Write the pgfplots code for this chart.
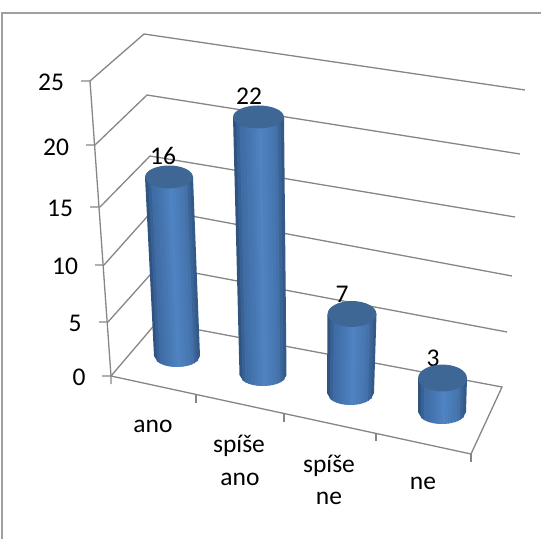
\documentclass[border=0pt]{standalone}
\usepackage{fontspec}
\setmainfont{Carlito}
\usepackage{pgfplots}
\pgfplotsset{compat=1.18}

\definecolor{framegray}{HTML}{A0A0A0}
\definecolor{wallgray}{HTML}{868686}
\definecolor{captop}{HTML}{3E6795}
\definecolor{cylA}{HTML}{2C4E78}
\definecolor{cylB}{HTML}{3E6BA3}
\definecolor{cylC}{HTML}{4F83C2}
\definecolor{cylD}{HTML}{4675AE}
\definecolor{cylE}{HTML}{2F5480}

% colour bands across the round side of a cylinder, left to right
\colorlet{S0}{cylA!78!cylB}
\colorlet{S1}{cylA!33!cylB}
\colorlet{S2}{cylB!96!cylC}
\colorlet{S3}{cylB!80!cylC}
\colorlet{S4}{cylB!65!cylC}
\colorlet{S5}{cylB!49!cylC}
\colorlet{S6}{cylB!33!cylC}
\colorlet{S7}{cylB!18!cylC}
\colorlet{S8}{cylB!2!cylC}
\colorlet{S9}{cylC!81!cylD}
\colorlet{S10}{cylC!59!cylD}
\colorlet{S11}{cylC!36!cylD}
\colorlet{S12}{cylC!14!cylD}
\colorlet{S13}{cylD!87!cylE}
\colorlet{S14}{cylD!52!cylE}
\colorlet{S15}{cylD!17!cylE}

% unit disc used for the top face of a cylinder
\pgfdeclareplotmark{capflat}{\pgfpathcircle{\pgfpointorigin}{1pt}\pgfusepath{fill}}

% value, top x, base x, base y, px per unit, top half width, base half width, top half height, base half height
\newcommand\cylinder[9]{%
  \pgfmathsetmacro\ytop{#4-#1*#5}%
  \pgfplotsinvokeforeach{0,...,15}{%
    \pgfmathsetmacro\ua{-1+##1/8}%
    \pgfmathsetmacro\ub{min(1,\ua+0.125+0.03)}%
    \pgfmathsetmacro\xta{#2+#6*\ua}\pgfmathsetmacro\xtb{#2+#6*\ub}%
    \pgfmathsetmacro\xba{#3+#7*\ua}\pgfmathsetmacro\xbb{#3+#7*\ub}%
    \pgfmathsetmacro\yba{#4+#9*sqrt(max(0,1-\ua*\ua))}%
    \pgfmathsetmacro\ybb{#4+#9*sqrt(max(0,1-\ub*\ub))}%
    \addplot[draw=none,fill=S##1] coordinates {(\xta,\ytop) (\xtb,\ytop) (\xbb,\ybb) (\xba,\yba)} --cycle;
  }%
  \addplot[only marks,mark=capflat,mark size=1pt,
    mark options={xscale=#6,yscale=#8,fill=captop,draw=none}] coordinates {(#2,\ytop)};
}
\tikzset{lab/.style={font=\fontsize{25.5bp}{30bp}\selectfont, inner sep=0pt, text=black, anchor=base}}

\begin{document}
\begin{tikzpicture}
\path[use as bounding box] (0,0) rectangle (541bp,539bp);
\begin{axis}[
  anchor=south west, at={(0,0)},
  scale only axis, width=541bp, height=539bp,
  xmin=0, xmax=541, ymin=0, ymax=539, y dir=reverse,
  hide axis, clip=false,
]
% outer frame
\addplot[framegray, line width=1.2bp] coordinates {(2,539) (2,13) (541,13)};

% grid levels on the side and back walls
\addplot[wallgray, line width=1.3bp] coordinates {(81,81) (90,81) (144,34) (525,90)};
\addplot[wallgray, line width=1.3bp] coordinates {(86,145) (95,145) (147,95) (520,154)};
\addplot[wallgray, line width=1.3bp] coordinates {(90,207) (100,207) (150,156) (515,217)};
\addplot[wallgray, line width=1.3bp] coordinates {(95,265) (104,265) (154,209) (512,276)};
\addplot[wallgray, line width=1.3bp] coordinates {(99,322) (108,322) (158,266) (507,332)};
\addplot[wallgray, line width=1.3bp] coordinates {(102,376) (111,376) (157,322) (502,387) (471,454) (111,376)};
% value axis edge and category ticks
\addplot[wallgray, line width=1.3bp] coordinates {(90,81) (111,376) (111,384)};
\addplot[wallgray, line width=1.3bp] coordinates {(196,395) (196,403)};
\addplot[wallgray, line width=1.3bp] coordinates {(284,414) (284,422)};
\addplot[wallgray, line width=1.3bp] coordinates {(376,433) (376,441)};
\addplot[wallgray, line width=1.3bp] coordinates {(471,454) (471,462)};

% cylinders
\cylinder{16}{169}{177}{356}{11.19}{24}{23}{11.5}{11}
\cylinder{22}{258.5}{263}{375}{11.73}{25.5}{23.5}{11.5}{11}
\cylinder{7}{352}{350.5}{393}{11.29}{24.5}{23.5}{13}{12}
\cylinder{3}{442.5}{442}{412}{11.33}{24.5}{24}{13.5}{12}

% value axis numbers
\node[lab] at (axis cs:51,91) {25};
\node[lab] at (axis cs:56,155) {20};
\node[lab] at (axis cs:60,216) {15};
\node[lab] at (axis cs:65,274) {10};
\node[lab] at (axis cs:75,331) {5};
\node[lab] at (axis cs:79,385) {0};

% category names
\node[lab] at (axis cs:153,432) {ano};
\node[lab] at (axis cs:239,452) {spíše};
\node[lab] at (axis cs:240,485) {ano};
\node[lab] at (axis cs:329,472) {spíše};
\node[lab] at (axis cs:329,504) {ne};
\node[lab] at (axis cs:423,489) {ne};

% bar values
\node[lab] at (axis cs:163,164) {16};
\node[lab] at (axis cs:249,105) {22};
\node[lab] at (axis cs:342,302) {7};
\node[lab] at (axis cs:433,366) {3};
\end{axis}
\end{tikzpicture}
\end{document}
